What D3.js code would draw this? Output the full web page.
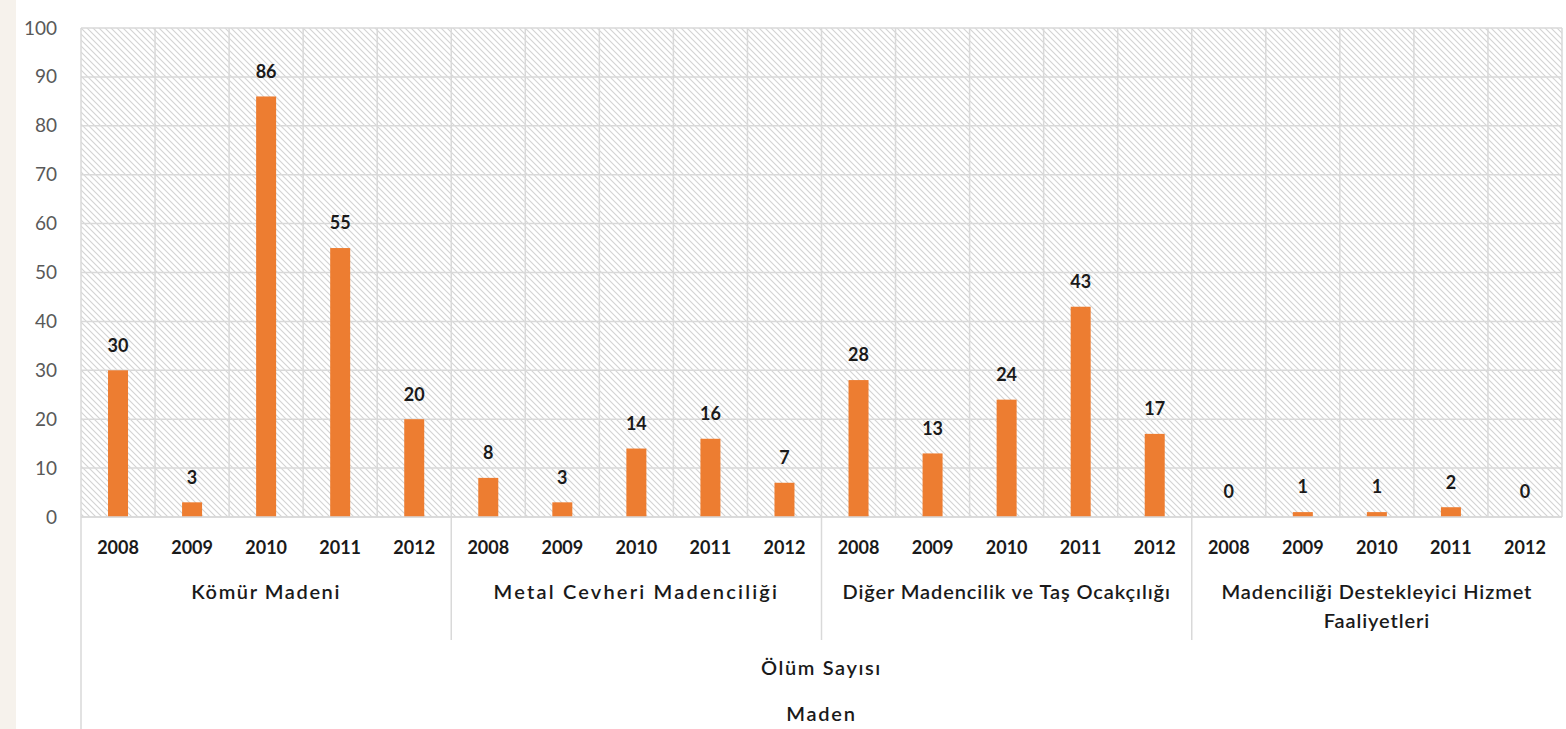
<!DOCTYPE html>
<html>
<head>
<meta charset="utf-8">
<script src="https://cdn.jsdelivr.net/npm/d3@7"></script>
<style>
  body { margin: 0; background: #fff; }
  svg { display: block; }
  .lbl { font-family: Lato, "Open Sans", sans-serif; font-weight: bold; font-size: 18px; fill: #1a1a1a; }
  .cat { font-family: Lato, "Open Sans", sans-serif; font-size: 20px; fill: #1a1a1a; font-weight: 600; }
</style>
</head>
<body>
<svg id="chart" width="1566" height="729"></svg>
<script>
var years = ["2008", "2009", "2010", "2011", "2012"];
var groups = ["Kömür Madeni", "Metal Cevheri Madenciliği", "Diğer Madencilik ve Taş Ocakçılığı", "Madenciliği Destekleyici Hizmet Faaliyetleri"];
var groupLines = [["Kömür Madeni"], ["Metal Cevheri Madenciliği"], ["Diğer Madencilik ve Taş Ocakçılığı"], ["Madenciliği Destekleyici Hizmet", "Faaliyetleri"]];
var komur = [30, 3, 86, 55, 20];
var metal = [8, 3, 14, 16, 7];
var diger = [28, 13, 24, 43, 17];
var destek = [0, 1, 1, 2, 0];
var yTicks = [0, 10, 20, 30, 40, 50, 60, 70, 80, 90, 100];
var level3 = "Ölüm Sayısı";
var level4 = "Maden";

var series = [komur, metal, diger, destek];
var rows = [];
groups.forEach(function (g, gi) {
    years.forEach(function (y, yi) {
        rows.push({ key: g + "|" + y, group: g, year: y, value: series[gi][yi] });
    });
});

var svg = d3.select("#chart");
var margin = { top: 28, left: 81, right: 4, bottom: 212 };
var width = +svg.attr("width") - margin.left - margin.right;
var height = +svg.attr("height") - margin.top - margin.bottom;

// left beige strip
svg.append("rect").attr("x", 0).attr("y", 0).attr("width", 16).attr("height", 729).attr("fill", "#f6f2ec");

var defs = svg.append("defs");
var pat = defs.append("pattern")
    .attr("id", "hatch")
    .attr("patternUnits", "userSpaceOnUse")
    .attr("width", 6).attr("height", 6);
pat.append("rect").attr("width", 6).attr("height", 6).attr("fill", "#fff");
pat.append("path")
    .attr("d", "M-1,-1 L7,7 M-1,5 L1,7 M5,-1 L7,1")
    .attr("stroke", "#d3d3d3").attr("stroke-width", 1.1);

var x = d3.scaleBand().domain(rows.map(d => d.key)).range([0, width]).paddingInner(0).paddingOuter(0);
var y = d3.scaleLinear().domain([0, 100]).range([height, 0]);

var g = svg.append("g").attr("transform", "translate(" + margin.left + "," + margin.top + ")");

g.append("rect").attr("width", width).attr("height", height).attr("fill", "url(#hatch)");

// horizontal grid
g.selectAll(".hgrid").data(yTicks).enter().append("line")
    .attr("x1", 0).attr("x2", width)
    .attr("y1", d => y(d)).attr("y2", d => y(d))
    .attr("stroke", "#d9d9d9").attr("stroke-width", 1.5);

// vertical grid at band boundaries
var bounds = rows.map(d => x(d.key)).concat([width]);
g.selectAll(".vgrid").data(bounds).enter().append("line")
    .attr("x1", d => d).attr("x2", d => d)
    .attr("y1", 0).attr("y2", height)
    .attr("stroke", "#d9d9d9").attr("stroke-width", 1.5);

// y axis tick labels
var yAxis = d3.axisLeft(y).tickValues(yTicks).tickSize(0).tickPadding(24);
var ya = g.append("g").call(yAxis);
ya.select(".domain").remove();
ya.selectAll("text").style("font-size", "19px").style("font-family", "Lato, 'Open Sans', sans-serif").attr("fill", "#595959");

// bars
var barW = 20;
g.selectAll(".bar").data(rows).enter().append("rect")
    .attr("x", d => x(d.key) + x.bandwidth() / 2 - barW / 2)
    .attr("width", barW)
    .attr("y", d => y(d.value))
    .attr("height", d => height - y(d.value))
    .attr("fill", "#ed7d31");

// value labels
g.selectAll(".lbl").data(rows).enter().append("text")
    .attr("class", "lbl")
    .attr("x", d => x(d.key) + x.bandwidth() / 2)
    .attr("y", d => y(d.value) - 25)
    .attr("dy", "0.35em")
    .attr("text-anchor", "middle")
    .text(d => d.value);

// year labels
var xAxis = d3.axisBottom(x).tickSize(0).tickPadding(0).tickFormat(k => k.split("|")[1]);
var xa = g.append("g").attr("transform", "translate(0," + height + ")").call(xAxis);
xa.select(".domain").remove();
xa.selectAll("text").attr("class", "lbl").attr("y", 31).attr("dy", "0.35em")
    .style("font-size", "18px").style("font-family", "Lato, 'Open Sans', sans-serif");

// baseline
g.append("line").attr("x1", 0).attr("x2", width).attr("y1", height).attr("y2", height)
    .attr("stroke", "#d9d9d9").attr("stroke-width", 1.5);

// group separators and group labels
var gw = x.bandwidth() * years.length;
var sep = d3.range(1, groups.length).map(i => i * gw);
g.selectAll(".sep").data(sep).enter().append("line")
    .attr("x1", d => d).attr("x2", d => d)
    .attr("y1", height).attr("y2", height + 123)
    .attr("stroke", "#d9d9d9").attr("stroke-width", 1.5);

g.append("line").attr("x1", 0).attr("x2", 0).attr("y1", height).attr("y2", 729 - margin.top)
    .attr("stroke", "#d9d9d9").attr("stroke-width", 1.5);

var spacing = ["1.6px", "2.2px", "0.9px", "0.9px"];
groupLines.forEach(function (lines, gi) {
    var t = g.append("text").attr("class", "cat")
        .attr("text-anchor", "middle")
        .attr("x", gi * gw + gw / 2)
        .attr("y", height + 75)
        .style("letter-spacing", spacing[gi]);
    lines.forEach(function (l, li) {
        t.append("tspan").attr("x", gi * gw + gw / 2).attr("dy", li === 0 ? "0.35em" : "1.45em").text(l);
    });
});

g.append("text").attr("class", "cat").attr("text-anchor", "middle").style("letter-spacing", "1.6px")
    .attr("x", width / 2).attr("y", height + 151).attr("dy", "0.35em").text(level3);
g.append("text").attr("class", "cat").attr("text-anchor", "middle").style("letter-spacing", "1.8px")
    .attr("x", width / 2).attr("y", height + 197).attr("dy", "0.35em").text(level4);
</script>
</body>
</html>
